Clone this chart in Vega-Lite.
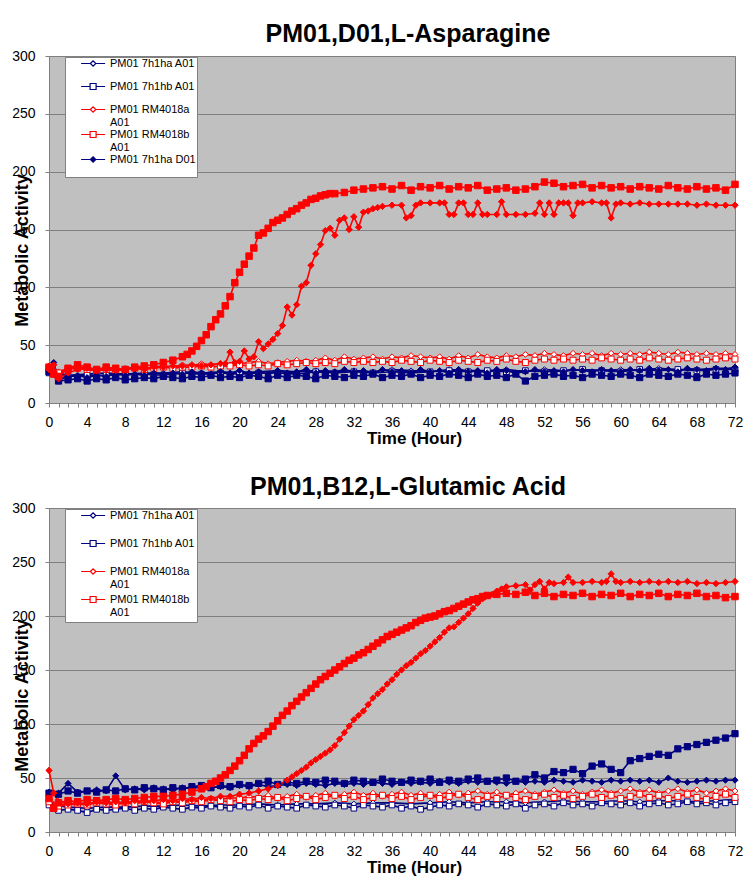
{
"$schema": "https://vega.github.io/schema/vega-lite/v6.json",
"padding": {"left": 11, "top": 21, "right": 10, "bottom": 5},
"spacing": 27,
"config": {
 "font": "Liberation Sans",
 "view": {"fill": "#C0C0C0", "stroke": "#808080", "strokeWidth": 1},
 "axis": {"labelColor": "black", "titleColor": "black", "domainColor": "#808080", "tickColor": "#808080", "labelFontSize": 14, "tickSize": 4, "labelFont": "Liberation Sans", "titleFont": "Liberation Sans"},
 "title": {"fontSize": 25, "fontWeight": "bold", "color": "black", "frame": "group", "anchor": "middle", "baseline": "alphabetic", "dx": 16, "font": "Liberation Sans"},
 "legend": {"orient": "none", "legendX": 16, "legendY": 1, "fillColor": "white", "strokeColor": "#808080", "padding": 1, "labelFontSize": 11, "labelColor": "black", "labelFont": "Liberation Sans", "symbolSize": 36, "symbolStrokeWidth": 1.2, "labelOffset": 33}
},
"resolve": {"scale": {"x": "independent", "y": "independent", "stroke": "independent", "fill": "independent", "shape": "independent", "size": "independent"}, "legend": {"stroke": "independent", "fill": "independent", "shape": "independent"}},
"datasets": {
"top": [
{"t":0,"s":"a","v":28},{"t":2,"s":"a","v":24},{"t":4,"s":"a","v":25},{"t":6,"s":"a","v":26},{"t":8,"s":"a","v":25},{"t":10,"s":"a","v":26},{"t":12,"s":"a","v":26},{"t":14,"s":"a","v":27},{"t":16,"s":"a","v":26},{"t":18,"s":"a","v":27},{"t":20,"s":"a","v":26},{"t":22,"s":"a","v":27},{"t":24,"s":"a","v":28},{"t":26,"s":"a","v":27},{"t":28,"s":"a","v":28},{"t":30,"s":"a","v":27},{"t":32,"s":"a","v":28},{"t":34,"s":"a","v":27},{"t":36,"s":"a","v":29},{"t":38,"s":"a","v":28},{"t":40,"s":"a","v":27},{"t":42,"s":"a","v":29},{"t":44,"s":"a","v":28},{"t":46,"s":"a","v":28},{"t":48,"s":"a","v":29},{"t":50,"s":"a","v":27},{"t":52,"s":"a","v":29},{"t":54,"s":"a","v":28},{"t":56,"s":"a","v":29},{"t":58,"s":"a","v":28},{"t":60,"s":"a","v":29},{"t":62,"s":"a","v":28},{"t":64,"s":"a","v":30},{"t":66,"s":"a","v":29},{"t":68,"s":"a","v":29},{"t":70,"s":"a","v":30},{"t":72,"s":"a","v":30},
{"t":0,"s":"b","v":26},{"t":2,"s":"b","v":23},{"t":4,"s":"b","v":24},{"t":6,"s":"b","v":24},{"t":8,"s":"b","v":25},{"t":10,"s":"b","v":25},{"t":12,"s":"b","v":24},{"t":14,"s":"b","v":26},{"t":16,"s":"b","v":25},{"t":18,"s":"b","v":26},{"t":20,"s":"b","v":25},{"t":22,"s":"b","v":26},{"t":24,"s":"b","v":26},{"t":26,"s":"b","v":25},{"t":28,"s":"b","v":27},{"t":30,"s":"b","v":26},{"t":32,"s":"b","v":27},{"t":34,"s":"b","v":26},{"t":36,"s":"b","v":27},{"t":38,"s":"b","v":26},{"t":40,"s":"b","v":27},{"t":42,"s":"b","v":28},{"t":44,"s":"b","v":27},{"t":46,"s":"b","v":28},{"t":48,"s":"b","v":27},{"t":50,"s":"b","v":28},{"t":52,"s":"b","v":27},{"t":54,"s":"b","v":28},{"t":56,"s":"b","v":29},{"t":58,"s":"b","v":28},{"t":60,"s":"b","v":27},{"t":62,"s":"b","v":29},{"t":64,"s":"b","v":28},{"t":66,"s":"b","v":29},{"t":68,"s":"b","v":28},{"t":70,"s":"b","v":29},{"t":72,"s":"b","v":29},
{"t":0,"s":"c","v":32},{"t":1,"s":"c","v":27},{"t":2,"s":"c","v":30},{"t":3,"s":"c","v":31},{"t":4,"s":"c","v":30},{"t":5,"s":"c","v":29},{"t":6,"s":"c","v":30},{"t":7,"s":"c","v":29},{"t":8,"s":"c","v":30},{"t":9,"s":"c","v":31},{"t":10,"s":"c","v":30},{"t":11,"s":"c","v":31},{"t":12,"s":"c","v":32},{"t":13,"s":"c","v":31},{"t":14,"s":"c","v":33},{"t":15,"s":"c","v":32},{"t":16,"s":"c","v":34},{"t":17,"s":"c","v":33},{"t":18,"s":"c","v":34},{"t":19,"s":"c","v":33},{"t":20,"s":"c","v":34},{"t":21,"s":"c","v":35},{"t":22,"s":"c","v":36},{"t":23,"s":"c","v":34},{"t":24,"s":"c","v":35},{"t":25,"s":"c","v":36},{"t":26,"s":"c","v":37},{"t":27,"s":"c","v":36},{"t":28,"s":"c","v":37},{"t":29,"s":"c","v":39},{"t":30,"s":"c","v":37},{"t":31,"s":"c","v":40},{"t":32,"s":"c","v":38},{"t":33,"s":"c","v":39},{"t":34,"s":"c","v":40},{"t":35,"s":"c","v":38},{"t":36,"s":"c","v":40},{"t":37,"s":"c","v":39},{"t":38,"s":"c","v":41},{"t":39,"s":"c","v":40},{"t":40,"s":"c","v":39},{"t":41,"s":"c","v":40},{"t":42,"s":"c","v":38},{"t":43,"s":"c","v":41},{"t":44,"s":"c","v":39},{"t":45,"s":"c","v":42},{"t":46,"s":"c","v":40},{"t":47,"s":"c","v":39},{"t":48,"s":"c","v":41},{"t":49,"s":"c","v":40},{"t":50,"s":"c","v":42},{"t":51,"s":"c","v":41},{"t":52,"s":"c","v":43},{"t":53,"s":"c","v":42},{"t":54,"s":"c","v":41},{"t":55,"s":"c","v":43},{"t":56,"s":"c","v":42},{"t":57,"s":"c","v":43},{"t":58,"s":"c","v":41},{"t":59,"s":"c","v":43},{"t":60,"s":"c","v":42},{"t":61,"s":"c","v":43},{"t":62,"s":"c","v":42},{"t":63,"s":"c","v":44},{"t":64,"s":"c","v":43},{"t":65,"s":"c","v":42},{"t":66,"s":"c","v":44},{"t":67,"s":"c","v":43},{"t":68,"s":"c","v":42},{"t":69,"s":"c","v":43},{"t":70,"s":"c","v":42},{"t":71,"s":"c","v":43},{"t":72,"s":"c","v":42},
{"t":0,"s":"d","v":30},{"t":1,"s":"d","v":26},{"t":2,"s":"d","v":29},{"t":3,"s":"d","v":30},{"t":4,"s":"d","v":29},{"t":5,"s":"d","v":28},{"t":6,"s":"d","v":29},{"t":7,"s":"d","v":28},{"t":8,"s":"d","v":29},{"t":9,"s":"d","v":30},{"t":10,"s":"d","v":29},{"t":11,"s":"d","v":30},{"t":12,"s":"d","v":31},{"t":13,"s":"d","v":30},{"t":14,"s":"d","v":31},{"t":15,"s":"d","v":31},{"t":16,"s":"d","v":32},{"t":17,"s":"d","v":31},{"t":18,"s":"d","v":32},{"t":19,"s":"d","v":32},{"t":20,"s":"d","v":33},{"t":21,"s":"d","v":32},{"t":22,"s":"d","v":33},{"t":23,"s":"d","v":32},{"t":24,"s":"d","v":34},{"t":25,"s":"d","v":33},{"t":26,"s":"d","v":34},{"t":27,"s":"d","v":35},{"t":28,"s":"d","v":34},{"t":29,"s":"d","v":35},{"t":30,"s":"d","v":34},{"t":31,"s":"d","v":36},{"t":32,"s":"d","v":35},{"t":33,"s":"d","v":36},{"t":34,"s":"d","v":35},{"t":35,"s":"d","v":36},{"t":36,"s":"d","v":35},{"t":37,"s":"d","v":37},{"t":38,"s":"d","v":36},{"t":39,"s":"d","v":35},{"t":40,"s":"d","v":37},{"t":41,"s":"d","v":36},{"t":42,"s":"d","v":35},{"t":43,"s":"d","v":37},{"t":44,"s":"d","v":36},{"t":45,"s":"d","v":35},{"t":46,"s":"d","v":37},{"t":47,"s":"d","v":36},{"t":48,"s":"d","v":38},{"t":49,"s":"d","v":36},{"t":50,"s":"d","v":35},{"t":51,"s":"d","v":37},{"t":52,"s":"d","v":38},{"t":53,"s":"d","v":37},{"t":54,"s":"d","v":38},{"t":55,"s":"d","v":37},{"t":56,"s":"d","v":38},{"t":57,"s":"d","v":37},{"t":58,"s":"d","v":39},{"t":59,"s":"d","v":38},{"t":60,"s":"d","v":37},{"t":61,"s":"d","v":38},{"t":62,"s":"d","v":37},{"t":63,"s":"d","v":39},{"t":64,"s":"d","v":38},{"t":65,"s":"d","v":37},{"t":66,"s":"d","v":38},{"t":67,"s":"d","v":39},{"t":68,"s":"d","v":38},{"t":69,"s":"d","v":37},{"t":70,"s":"d","v":38},{"t":71,"s":"d","v":39},{"t":72,"s":"d","v":38},
{"t":0,"s":"e","v":30},{"t":0.5,"s":"e","v":35},{"t":1,"s":"e","v":20},{"t":2,"s":"e","v":23},{"t":3,"s":"e","v":24},{"t":4,"s":"e","v":22},{"t":5,"s":"e","v":24},{"t":6,"s":"e","v":23},{"t":7,"s":"e","v":25},{"t":8,"s":"e","v":24},{"t":9,"s":"e","v":25},{"t":10,"s":"e","v":24},{"t":11,"s":"e","v":26},{"t":12,"s":"e","v":25},{"t":13,"s":"e","v":26},{"t":14,"s":"e","v":25},{"t":15,"s":"e","v":27},{"t":16,"s":"e","v":26},{"t":17,"s":"e","v":25},{"t":18,"s":"e","v":27},{"t":19,"s":"e","v":26},{"t":20,"s":"e","v":28},{"t":21,"s":"e","v":26},{"t":22,"s":"e","v":27},{"t":23,"s":"e","v":25},{"t":24,"s":"e","v":28},{"t":25,"s":"e","v":26},{"t":26,"s":"e","v":27},{"t":27,"s":"e","v":29},{"t":28,"s":"e","v":26},{"t":29,"s":"e","v":28},{"t":30,"s":"e","v":27},{"t":31,"s":"e","v":29},{"t":32,"s":"e","v":27},{"t":33,"s":"e","v":28},{"t":34,"s":"e","v":26},{"t":35,"s":"e","v":29},{"t":36,"s":"e","v":27},{"t":37,"s":"e","v":28},{"t":38,"s":"e","v":26},{"t":39,"s":"e","v":29},{"t":40,"s":"e","v":27},{"t":41,"s":"e","v":28},{"t":42,"s":"e","v":26},{"t":43,"s":"e","v":29},{"t":44,"s":"e","v":27},{"t":45,"s":"e","v":28},{"t":46,"s":"e","v":26},{"t":47,"s":"e","v":29},{"t":48,"s":"e","v":28},{"t":49,"s":"e","v":26},{"t":50,"s":"e","v":27},{"t":51,"s":"e","v":29},{"t":52,"s":"e","v":27},{"t":53,"s":"e","v":28},{"t":54,"s":"e","v":27},{"t":55,"s":"e","v":29},{"t":56,"s":"e","v":28},{"t":57,"s":"e","v":27},{"t":58,"s":"e","v":29},{"t":59,"s":"e","v":28},{"t":60,"s":"e","v":27},{"t":61,"s":"e","v":29},{"t":62,"s":"e","v":28},{"t":63,"s":"e","v":30},{"t":64,"s":"e","v":28},{"t":65,"s":"e","v":29},{"t":66,"s":"e","v":27},{"t":67,"s":"e","v":30},{"t":68,"s":"e","v":29},{"t":69,"s":"e","v":28},{"t":70,"s":"e","v":30},{"t":71,"s":"e","v":29},{"t":72,"s":"e","v":31},
{"t":0,"s":"f","v":27},{"t":1,"s":"f","v":19},{"t":2,"s":"f","v":20},{"t":3,"s":"f","v":21},{"t":4,"s":"f","v":19},{"t":5,"s":"f","v":21},{"t":6,"s":"f","v":20},{"t":7,"s":"f","v":22},{"t":8,"s":"f","v":20},{"t":9,"s":"f","v":21},{"t":10,"s":"f","v":22},{"t":11,"s":"f","v":21},{"t":12,"s":"f","v":23},{"t":13,"s":"f","v":22},{"t":14,"s":"f","v":21},{"t":15,"s":"f","v":23},{"t":16,"s":"f","v":22},{"t":17,"s":"f","v":24},{"t":18,"s":"f","v":22},{"t":19,"s":"f","v":23},{"t":20,"s":"f","v":22},{"t":21,"s":"f","v":24},{"t":22,"s":"f","v":23},{"t":23,"s":"f","v":21},{"t":24,"s":"f","v":24},{"t":25,"s":"f","v":22},{"t":26,"s":"f","v":24},{"t":27,"s":"f","v":23},{"t":28,"s":"f","v":21},{"t":29,"s":"f","v":24},{"t":30,"s":"f","v":23},{"t":31,"s":"f","v":22},{"t":32,"s":"f","v":24},{"t":33,"s":"f","v":23},{"t":34,"s":"f","v":25},{"t":35,"s":"f","v":22},{"t":36,"s":"f","v":24},{"t":37,"s":"f","v":23},{"t":38,"s":"f","v":25},{"t":39,"s":"f","v":22},{"t":40,"s":"f","v":24},{"t":41,"s":"f","v":23},{"t":42,"s":"f","v":25},{"t":43,"s":"f","v":24},{"t":44,"s":"f","v":22},{"t":45,"s":"f","v":25},{"t":46,"s":"f","v":23},{"t":47,"s":"f","v":24},{"t":48,"s":"f","v":22},{"t":49,"s":"f","v":25},{"t":50,"s":"f","v":19},{"t":51,"s":"f","v":23},{"t":52,"s":"f","v":24},{"t":53,"s":"f","v":25},{"t":54,"s":"f","v":23},{"t":55,"s":"f","v":24},{"t":56,"s":"f","v":22},{"t":57,"s":"f","v":25},{"t":58,"s":"f","v":24},{"t":59,"s":"f","v":23},{"t":60,"s":"f","v":25},{"t":61,"s":"f","v":24},{"t":62,"s":"f","v":22},{"t":63,"s":"f","v":25},{"t":64,"s":"f","v":24},{"t":65,"s":"f","v":23},{"t":66,"s":"f","v":25},{"t":67,"s":"f","v":24},{"t":68,"s":"f","v":22},{"t":69,"s":"f","v":25},{"t":70,"s":"f","v":24},{"t":71,"s":"f","v":25},{"t":72,"s":"f","v":26},
{"t":0,"s":"g","v":29},{"t":0.5,"s":"g","v":33},{"t":1,"s":"g","v":21},{"t":2,"s":"g","v":26},{"t":3,"s":"g","v":29},{"t":4,"s":"g","v":30},{"t":5,"s":"g","v":28},{"t":6,"s":"g","v":29},{"t":7,"s":"g","v":28},{"t":8,"s":"g","v":29},{"t":9,"s":"g","v":30},{"t":10,"s":"g","v":29},{"t":11,"s":"g","v":31},{"t":12,"s":"g","v":31},{"t":13,"s":"g","v":32},{"t":14,"s":"g","v":32},{"t":15,"s":"g","v":33},{"t":16,"s":"g","v":32},{"t":17,"s":"g","v":33},{"t":18,"s":"g","v":34},{"t":18.5,"s":"g","v":34},{"t":19,"s":"g","v":44},{"t":19.5,"s":"g","v":35},{"t":20,"s":"g","v":36},{"t":20.5,"s":"g","v":45},{"t":21,"s":"g","v":38},{"t":21.5,"s":"g","v":40},{"t":22,"s":"g","v":53},{"t":22.5,"s":"g","v":47},{"t":23,"s":"g","v":51},{"t":23.5,"s":"g","v":55},{"t":24,"s":"g","v":60},{"t":24.5,"s":"g","v":67},{"t":25,"s":"g","v":83},{"t":25.5,"s":"g","v":76},{"t":26,"s":"g","v":85},{"t":26.5,"s":"g","v":101},{"t":27,"s":"g","v":104},{"t":27.5,"s":"g","v":119},{"t":28,"s":"g","v":129},{"t":28.5,"s":"g","v":137},{"t":29,"s":"g","v":149},{"t":29.5,"s":"g","v":151},{"t":30,"s":"g","v":145},{"t":30.5,"s":"g","v":158},{"t":31,"s":"g","v":160},{"t":31.5,"s":"g","v":150},{"t":32,"s":"g","v":161},{"t":32.5,"s":"g","v":152},{"t":33,"s":"g","v":165},{"t":33.5,"s":"g","v":166},{"t":34,"s":"g","v":168},{"t":34.5,"s":"g","v":169},{"t":35,"s":"g","v":170},{"t":36,"s":"g","v":171},{"t":37,"s":"g","v":171},{"t":37.5,"s":"g","v":160},{"t":38,"s":"g","v":162},{"t":38.5,"s":"g","v":171},{"t":39,"s":"g","v":173},{"t":40,"s":"g","v":173},{"t":41,"s":"g","v":173},{"t":41.5,"s":"g","v":173},{"t":42,"s":"g","v":163},{"t":42.5,"s":"g","v":163},{"t":43,"s":"g","v":173},{"t":43.5,"s":"g","v":173},{"t":44,"s":"g","v":163},{"t":44.5,"s":"g","v":163},{"t":45,"s":"g","v":173},{"t":45.5,"s":"g","v":163},{"t":46,"s":"g","v":163},{"t":47,"s":"g","v":163},{"t":47.5,"s":"g","v":174},{"t":48,"s":"g","v":163},{"t":49,"s":"g","v":163},{"t":50,"s":"g","v":163},{"t":51,"s":"g","v":164},{"t":51.5,"s":"g","v":173},{"t":52,"s":"g","v":163},{"t":52.5,"s":"g","v":173},{"t":53,"s":"g","v":163},{"t":53.5,"s":"g","v":173},{"t":54,"s":"g","v":173},{"t":54.5,"s":"g","v":173},{"t":55,"s":"g","v":162},{"t":55.5,"s":"g","v":173},{"t":56,"s":"g","v":173},{"t":57,"s":"g","v":174},{"t":58,"s":"g","v":173},{"t":58.5,"s":"g","v":173},{"t":59,"s":"g","v":160},{"t":59.5,"s":"g","v":172},{"t":60,"s":"g","v":173},{"t":61,"s":"g","v":172},{"t":62,"s":"g","v":173},{"t":63,"s":"g","v":172},{"t":64,"s":"g","v":172},{"t":65,"s":"g","v":172},{"t":66,"s":"g","v":172},{"t":67,"s":"g","v":172},{"t":68,"s":"g","v":171},{"t":69,"s":"g","v":172},{"t":70,"s":"g","v":171},{"t":71,"s":"g","v":171},{"t":72,"s":"g","v":171},
{"t":0,"s":"h","v":31},{"t":0.5,"s":"h","v":25},{"t":1,"s":"h","v":23},{"t":2,"s":"h","v":30},{"t":3,"s":"h","v":33},{"t":4,"s":"h","v":31},{"t":5,"s":"h","v":29},{"t":6,"s":"h","v":31},{"t":7,"s":"h","v":30},{"t":8,"s":"h","v":29},{"t":9,"s":"h","v":31},{"t":10,"s":"h","v":32},{"t":11,"s":"h","v":33},{"t":12,"s":"h","v":35},{"t":13,"s":"h","v":37},{"t":14,"s":"h","v":40},{"t":14.5,"s":"h","v":42},{"t":15,"s":"h","v":45},{"t":15.5,"s":"h","v":49},{"t":16,"s":"h","v":54},{"t":16.5,"s":"h","v":59},{"t":17,"s":"h","v":66},{"t":17.5,"s":"h","v":72},{"t":18,"s":"h","v":77},{"t":18.5,"s":"h","v":84},{"t":19,"s":"h","v":92},{"t":19.5,"s":"h","v":104},{"t":20,"s":"h","v":113},{"t":20.5,"s":"h","v":120},{"t":21,"s":"h","v":127},{"t":21.5,"s":"h","v":134},{"t":22,"s":"h","v":145},{"t":22.5,"s":"h","v":147},{"t":23,"s":"h","v":151},{"t":23.5,"s":"h","v":156},{"t":24,"s":"h","v":158},{"t":24.5,"s":"h","v":160},{"t":25,"s":"h","v":163},{"t":25.5,"s":"h","v":166},{"t":26,"s":"h","v":168},{"t":26.5,"s":"h","v":171},{"t":27,"s":"h","v":173},{"t":27.5,"s":"h","v":176},{"t":28,"s":"h","v":177},{"t":28.5,"s":"h","v":179},{"t":29,"s":"h","v":180},{"t":29.5,"s":"h","v":181},{"t":30,"s":"h","v":181},{"t":31,"s":"h","v":182},{"t":32,"s":"h","v":184},{"t":33,"s":"h","v":185},{"t":34,"s":"h","v":186},{"t":35,"s":"h","v":187},{"t":36,"s":"h","v":185},{"t":37,"s":"h","v":188},{"t":38,"s":"h","v":184},{"t":39,"s":"h","v":187},{"t":40,"s":"h","v":186},{"t":41,"s":"h","v":188},{"t":42,"s":"h","v":185},{"t":43,"s":"h","v":187},{"t":44,"s":"h","v":186},{"t":45,"s":"h","v":188},{"t":46,"s":"h","v":184},{"t":47,"s":"h","v":185},{"t":48,"s":"h","v":186},{"t":49,"s":"h","v":184},{"t":50,"s":"h","v":185},{"t":51,"s":"h","v":187},{"t":52,"s":"h","v":191},{"t":53,"s":"h","v":190},{"t":54,"s":"h","v":187},{"t":55,"s":"h","v":188},{"t":56,"s":"h","v":189},{"t":57,"s":"h","v":186},{"t":58,"s":"h","v":188},{"t":59,"s":"h","v":186},{"t":60,"s":"h","v":187},{"t":61,"s":"h","v":185},{"t":62,"s":"h","v":187},{"t":63,"s":"h","v":186},{"t":64,"s":"h","v":185},{"t":65,"s":"h","v":188},{"t":66,"s":"h","v":186},{"t":67,"s":"h","v":185},{"t":68,"s":"h","v":187},{"t":69,"s":"h","v":185},{"t":70,"s":"h","v":186},{"t":71,"s":"h","v":184},{"t":72,"s":"h","v":189}
],
"bot": [
{"t":0,"s":"a","v":26},{"t":2,"s":"a","v":23},{"t":4,"s":"a","v":22},{"t":6,"s":"a","v":23},{"t":8,"s":"a","v":23},{"t":10,"s":"a","v":24},{"t":12,"s":"a","v":24},{"t":14,"s":"a","v":25},{"t":16,"s":"a","v":24},{"t":18,"s":"a","v":25},{"t":20,"s":"a","v":25},{"t":22,"s":"a","v":26},{"t":24,"s":"a","v":25},{"t":26,"s":"a","v":26},{"t":28,"s":"a","v":26},{"t":30,"s":"a","v":27},{"t":32,"s":"a","v":26},{"t":34,"s":"a","v":27},{"t":36,"s":"a","v":27},{"t":38,"s":"a","v":26},{"t":40,"s":"a","v":27},{"t":42,"s":"a","v":28},{"t":44,"s":"a","v":27},{"t":46,"s":"a","v":28},{"t":48,"s":"a","v":28},{"t":50,"s":"a","v":27},{"t":52,"s":"a","v":28},{"t":54,"s":"a","v":29},{"t":56,"s":"a","v":28},{"t":58,"s":"a","v":28},{"t":60,"s":"a","v":29},{"t":62,"s":"a","v":28},{"t":64,"s":"a","v":29},{"t":66,"s":"a","v":29},{"t":68,"s":"a","v":28},{"t":70,"s":"a","v":29},{"t":72,"s":"a","v":30},
{"t":0,"s":"b","v":25},{"t":1,"s":"b","v":20},{"t":2,"s":"b","v":21},{"t":3,"s":"b","v":20},{"t":4,"s":"b","v":18},{"t":5,"s":"b","v":21},{"t":6,"s":"b","v":20},{"t":7,"s":"b","v":21},{"t":8,"s":"b","v":22},{"t":9,"s":"b","v":20},{"t":10,"s":"b","v":22},{"t":11,"s":"b","v":21},{"t":12,"s":"b","v":23},{"t":13,"s":"b","v":22},{"t":14,"s":"b","v":21},{"t":15,"s":"b","v":23},{"t":16,"s":"b","v":22},{"t":17,"s":"b","v":24},{"t":18,"s":"b","v":23},{"t":19,"s":"b","v":22},{"t":20,"s":"b","v":24},{"t":21,"s":"b","v":23},{"t":22,"s":"b","v":25},{"t":23,"s":"b","v":22},{"t":24,"s":"b","v":24},{"t":25,"s":"b","v":23},{"t":26,"s":"b","v":22},{"t":27,"s":"b","v":25},{"t":28,"s":"b","v":24},{"t":29,"s":"b","v":23},{"t":30,"s":"b","v":25},{"t":31,"s":"b","v":24},{"t":32,"s":"b","v":22},{"t":33,"s":"b","v":25},{"t":34,"s":"b","v":24},{"t":35,"s":"b","v":23},{"t":36,"s":"b","v":25},{"t":37,"s":"b","v":22},{"t":38,"s":"b","v":24},{"t":39,"s":"b","v":21},{"t":40,"s":"b","v":23},{"t":41,"s":"b","v":25},{"t":42,"s":"b","v":24},{"t":43,"s":"b","v":26},{"t":44,"s":"b","v":25},{"t":45,"s":"b","v":23},{"t":46,"s":"b","v":26},{"t":47,"s":"b","v":25},{"t":48,"s":"b","v":24},{"t":49,"s":"b","v":26},{"t":50,"s":"b","v":22},{"t":51,"s":"b","v":25},{"t":52,"s":"b","v":26},{"t":53,"s":"b","v":24},{"t":54,"s":"b","v":27},{"t":55,"s":"b","v":25},{"t":56,"s":"b","v":26},{"t":57,"s":"b","v":24},{"t":58,"s":"b","v":27},{"t":59,"s":"b","v":26},{"t":60,"s":"b","v":25},{"t":61,"s":"b","v":27},{"t":62,"s":"b","v":24},{"t":63,"s":"b","v":26},{"t":64,"s":"b","v":27},{"t":65,"s":"b","v":25},{"t":66,"s":"b","v":26},{"t":67,"s":"b","v":28},{"t":68,"s":"b","v":26},{"t":69,"s":"b","v":27},{"t":70,"s":"b","v":25},{"t":71,"s":"b","v":27},{"t":72,"s":"b","v":28},
{"t":0,"s":"c","v":30},{"t":1,"s":"c","v":25},{"t":2,"s":"c","v":26},{"t":3,"s":"c","v":27},{"t":4,"s":"c","v":26},{"t":5,"s":"c","v":28},{"t":6,"s":"c","v":27},{"t":7,"s":"c","v":26},{"t":8,"s":"c","v":28},{"t":9,"s":"c","v":27},{"t":10,"s":"c","v":29},{"t":11,"s":"c","v":28},{"t":12,"s":"c","v":27},{"t":13,"s":"c","v":29},{"t":14,"s":"c","v":28},{"t":15,"s":"c","v":30},{"t":16,"s":"c","v":29},{"t":17,"s":"c","v":31},{"t":18,"s":"c","v":30},{"t":19,"s":"c","v":32},{"t":20,"s":"c","v":31},{"t":21,"s":"c","v":33},{"t":22,"s":"c","v":32},{"t":23,"s":"c","v":34},{"t":24,"s":"c","v":31},{"t":25,"s":"c","v":33},{"t":26,"s":"c","v":35},{"t":27,"s":"c","v":32},{"t":28,"s":"c","v":34},{"t":29,"s":"c","v":36},{"t":30,"s":"c","v":33},{"t":31,"s":"c","v":35},{"t":32,"s":"c","v":37},{"t":33,"s":"c","v":34},{"t":34,"s":"c","v":36},{"t":35,"s":"c","v":33},{"t":36,"s":"c","v":35},{"t":37,"s":"c","v":37},{"t":38,"s":"c","v":34},{"t":39,"s":"c","v":36},{"t":40,"s":"c","v":33},{"t":41,"s":"c","v":35},{"t":42,"s":"c","v":37},{"t":43,"s":"c","v":34},{"t":44,"s":"c","v":36},{"t":45,"s":"c","v":38},{"t":46,"s":"c","v":35},{"t":47,"s":"c","v":37},{"t":48,"s":"c","v":34},{"t":49,"s":"c","v":36},{"t":50,"s":"c","v":38},{"t":51,"s":"c","v":35},{"t":52,"s":"c","v":37},{"t":53,"s":"c","v":39},{"t":54,"s":"c","v":36},{"t":55,"s":"c","v":38},{"t":56,"s":"c","v":35},{"t":57,"s":"c","v":37},{"t":58,"s":"c","v":39},{"t":59,"s":"c","v":36},{"t":60,"s":"c","v":38},{"t":61,"s":"c","v":40},{"t":62,"s":"c","v":37},{"t":63,"s":"c","v":39},{"t":64,"s":"c","v":36},{"t":65,"s":"c","v":38},{"t":66,"s":"c","v":40},{"t":67,"s":"c","v":37},{"t":68,"s":"c","v":39},{"t":69,"s":"c","v":36},{"t":70,"s":"c","v":38},{"t":71,"s":"c","v":40},{"t":72,"s":"c","v":38},
{"t":0,"s":"d","v":28},{"t":1,"s":"d","v":24},{"t":2,"s":"d","v":25},{"t":3,"s":"d","v":26},{"t":4,"s":"d","v":25},{"t":5,"s":"d","v":27},{"t":6,"s":"d","v":26},{"t":7,"s":"d","v":25},{"t":8,"s":"d","v":27},{"t":9,"s":"d","v":26},{"t":10,"s":"d","v":28},{"t":11,"s":"d","v":27},{"t":12,"s":"d","v":26},{"t":13,"s":"d","v":28},{"t":14,"s":"d","v":27},{"t":15,"s":"d","v":29},{"t":16,"s":"d","v":28},{"t":17,"s":"d","v":30},{"t":18,"s":"d","v":29},{"t":19,"s":"d","v":28},{"t":20,"s":"d","v":30},{"t":21,"s":"d","v":29},{"t":22,"s":"d","v":31},{"t":23,"s":"d","v":30},{"t":24,"s":"d","v":32},{"t":25,"s":"d","v":29},{"t":26,"s":"d","v":31},{"t":27,"s":"d","v":33},{"t":28,"s":"d","v":30},{"t":29,"s":"d","v":32},{"t":30,"s":"d","v":34},{"t":31,"s":"d","v":31},{"t":32,"s":"d","v":33},{"t":33,"s":"d","v":30},{"t":34,"s":"d","v":32},{"t":35,"s":"d","v":34},{"t":36,"s":"d","v":31},{"t":37,"s":"d","v":33},{"t":38,"s":"d","v":30},{"t":39,"s":"d","v":32},{"t":40,"s":"d","v":34},{"t":41,"s":"d","v":31},{"t":42,"s":"d","v":33},{"t":43,"s":"d","v":35},{"t":44,"s":"d","v":32},{"t":45,"s":"d","v":30},{"t":46,"s":"d","v":33},{"t":47,"s":"d","v":31},{"t":48,"s":"d","v":34},{"t":49,"s":"d","v":32},{"t":50,"s":"d","v":30},{"t":51,"s":"d","v":33},{"t":52,"s":"d","v":35},{"t":53,"s":"d","v":32},{"t":54,"s":"d","v":34},{"t":55,"s":"d","v":31},{"t":56,"s":"d","v":33},{"t":57,"s":"d","v":35},{"t":58,"s":"d","v":32},{"t":59,"s":"d","v":34},{"t":60,"s":"d","v":31},{"t":61,"s":"d","v":33},{"t":62,"s":"d","v":35},{"t":63,"s":"d","v":32},{"t":64,"s":"d","v":34},{"t":65,"s":"d","v":31},{"t":66,"s":"d","v":33},{"t":67,"s":"d","v":35},{"t":68,"s":"d","v":32},{"t":69,"s":"d","v":30},{"t":70,"s":"d","v":33},{"t":71,"s":"d","v":35},{"t":72,"s":"d","v":32},
{"t":0,"s":"e","v":37},{"t":1,"s":"e","v":36},{"t":2,"s":"e","v":45},{"t":3,"s":"e","v":37},{"t":4,"s":"e","v":38},{"t":5,"s":"e","v":39},{"t":6,"s":"e","v":38},{"t":7,"s":"e","v":52},{"t":8,"s":"e","v":39},{"t":9,"s":"e","v":40},{"t":10,"s":"e","v":39},{"t":11,"s":"e","v":41},{"t":12,"s":"e","v":40},{"t":13,"s":"e","v":39},{"t":14,"s":"e","v":41},{"t":15,"s":"e","v":40},{"t":16,"s":"e","v":42},{"t":17,"s":"e","v":41},{"t":18,"s":"e","v":42},{"t":19,"s":"e","v":41},{"t":20,"s":"e","v":43},{"t":21,"s":"e","v":42},{"t":22,"s":"e","v":44},{"t":23,"s":"e","v":42},{"t":24,"s":"e","v":43},{"t":25,"s":"e","v":44},{"t":26,"s":"e","v":43},{"t":27,"s":"e","v":45},{"t":28,"s":"e","v":44},{"t":29,"s":"e","v":43},{"t":30,"s":"e","v":45},{"t":31,"s":"e","v":44},{"t":32,"s":"e","v":45},{"t":33,"s":"e","v":44},{"t":34,"s":"e","v":46},{"t":35,"s":"e","v":45},{"t":36,"s":"e","v":44},{"t":37,"s":"e","v":46},{"t":38,"s":"e","v":45},{"t":39,"s":"e","v":46},{"t":40,"s":"e","v":45},{"t":41,"s":"e","v":47},{"t":42,"s":"e","v":46},{"t":43,"s":"e","v":45},{"t":44,"s":"e","v":47},{"t":45,"s":"e","v":46},{"t":46,"s":"e","v":47},{"t":47,"s":"e","v":46},{"t":48,"s":"e","v":45},{"t":49,"s":"e","v":47},{"t":50,"s":"e","v":46},{"t":51,"s":"e","v":47},{"t":52,"s":"e","v":46},{"t":53,"s":"e","v":48},{"t":54,"s":"e","v":47},{"t":55,"s":"e","v":46},{"t":56,"s":"e","v":48},{"t":57,"s":"e","v":47},{"t":58,"s":"e","v":46},{"t":59,"s":"e","v":48},{"t":60,"s":"e","v":47},{"t":61,"s":"e","v":48},{"t":62,"s":"e","v":47},{"t":63,"s":"e","v":48},{"t":64,"s":"e","v":46},{"t":65,"s":"e","v":50},{"t":66,"s":"e","v":47},{"t":67,"s":"e","v":46},{"t":68,"s":"e","v":47},{"t":69,"s":"e","v":48},{"t":70,"s":"e","v":47},{"t":71,"s":"e","v":48},{"t":72,"s":"e","v":48},
{"t":0,"s":"f","v":36},{"t":1,"s":"f","v":35},{"t":2,"s":"f","v":38},{"t":3,"s":"f","v":36},{"t":4,"s":"f","v":38},{"t":5,"s":"f","v":37},{"t":6,"s":"f","v":39},{"t":7,"s":"f","v":38},{"t":8,"s":"f","v":40},{"t":9,"s":"f","v":39},{"t":10,"s":"f","v":41},{"t":11,"s":"f","v":40},{"t":12,"s":"f","v":39},{"t":13,"s":"f","v":41},{"t":14,"s":"f","v":40},{"t":15,"s":"f","v":42},{"t":16,"s":"f","v":43},{"t":17,"s":"f","v":41},{"t":18,"s":"f","v":43},{"t":19,"s":"f","v":42},{"t":20,"s":"f","v":44},{"t":21,"s":"f","v":43},{"t":22,"s":"f","v":45},{"t":23,"s":"f","v":47},{"t":24,"s":"f","v":44},{"t":25,"s":"f","v":46},{"t":26,"s":"f","v":45},{"t":27,"s":"f","v":47},{"t":28,"s":"f","v":46},{"t":29,"s":"f","v":48},{"t":30,"s":"f","v":47},{"t":31,"s":"f","v":45},{"t":32,"s":"f","v":48},{"t":33,"s":"f","v":47},{"t":34,"s":"f","v":46},{"t":35,"s":"f","v":49},{"t":36,"s":"f","v":47},{"t":37,"s":"f","v":46},{"t":38,"s":"f","v":48},{"t":39,"s":"f","v":47},{"t":40,"s":"f","v":49},{"t":41,"s":"f","v":46},{"t":42,"s":"f","v":48},{"t":43,"s":"f","v":47},{"t":44,"s":"f","v":49},{"t":45,"s":"f","v":50},{"t":46,"s":"f","v":47},{"t":47,"s":"f","v":48},{"t":48,"s":"f","v":50},{"t":49,"s":"f","v":47},{"t":50,"s":"f","v":49},{"t":51,"s":"f","v":53},{"t":52,"s":"f","v":50},{"t":53,"s":"f","v":56},{"t":54,"s":"f","v":55},{"t":55,"s":"f","v":58},{"t":56,"s":"f","v":54},{"t":57,"s":"f","v":61},{"t":58,"s":"f","v":63},{"t":59,"s":"f","v":58},{"t":60,"s":"f","v":55},{"t":61,"s":"f","v":66},{"t":62,"s":"f","v":68},{"t":63,"s":"f","v":70},{"t":64,"s":"f","v":72},{"t":65,"s":"f","v":71},{"t":66,"s":"f","v":77},{"t":67,"s":"f","v":79},{"t":68,"s":"f","v":81},{"t":69,"s":"f","v":83},{"t":70,"s":"f","v":85},{"t":71,"s":"f","v":87},{"t":72,"s":"f","v":91},
{"t":0,"s":"g","v":57},{"t":0.5,"s":"g","v":36},{"t":1,"s":"g","v":28},{"t":2,"s":"g","v":26},{"t":3,"s":"g","v":27},{"t":4,"s":"g","v":26},{"t":5,"s":"g","v":28},{"t":6,"s":"g","v":27},{"t":7,"s":"g","v":28},{"t":8,"s":"g","v":27},{"t":9,"s":"g","v":29},{"t":10,"s":"g","v":28},{"t":11,"s":"g","v":29},{"t":12,"s":"g","v":30},{"t":13,"s":"g","v":29},{"t":14,"s":"g","v":31},{"t":15,"s":"g","v":30},{"t":16,"s":"g","v":32},{"t":17,"s":"g","v":31},{"t":18,"s":"g","v":33},{"t":19,"s":"g","v":33},{"t":20,"s":"g","v":35},{"t":21,"s":"g","v":36},{"t":22,"s":"g","v":38},{"t":23,"s":"g","v":40},{"t":24,"s":"g","v":43},{"t":25,"s":"g","v":48},{"t":25.5,"s":"g","v":51},{"t":26,"s":"g","v":54},{"t":26.5,"s":"g","v":57},{"t":27,"s":"g","v":60},{"t":27.5,"s":"g","v":64},{"t":28,"s":"g","v":67},{"t":28.5,"s":"g","v":70},{"t":29,"s":"g","v":73},{"t":29.5,"s":"g","v":76},{"t":30,"s":"g","v":80},{"t":30.5,"s":"g","v":86},{"t":31,"s":"g","v":92},{"t":31.5,"s":"g","v":98},{"t":32,"s":"g","v":104},{"t":32.5,"s":"g","v":108},{"t":33,"s":"g","v":112},{"t":33.5,"s":"g","v":118},{"t":34,"s":"g","v":124},{"t":34.5,"s":"g","v":128},{"t":35,"s":"g","v":132},{"t":35.5,"s":"g","v":137},{"t":36,"s":"g","v":141},{"t":36.5,"s":"g","v":146},{"t":37,"s":"g","v":150},{"t":37.5,"s":"g","v":154},{"t":38,"s":"g","v":157},{"t":38.5,"s":"g","v":161},{"t":39,"s":"g","v":165},{"t":39.5,"s":"g","v":168},{"t":40,"s":"g","v":172},{"t":40.5,"s":"g","v":176},{"t":41,"s":"g","v":180},{"t":41.5,"s":"g","v":185},{"t":42,"s":"g","v":189},{"t":42.5,"s":"g","v":190},{"t":43,"s":"g","v":194},{"t":43.5,"s":"g","v":198},{"t":44,"s":"g","v":202},{"t":44.5,"s":"g","v":207},{"t":45,"s":"g","v":212},{"t":45.5,"s":"g","v":216},{"t":46,"s":"g","v":219},{"t":46.5,"s":"g","v":220},{"t":47,"s":"g","v":223},{"t":47.5,"s":"g","v":225},{"t":48,"s":"g","v":227},{"t":49,"s":"g","v":228},{"t":50,"s":"g","v":229},{"t":50.5,"s":"g","v":224},{"t":51,"s":"g","v":229},{"t":51.5,"s":"g","v":232},{"t":52,"s":"g","v":225},{"t":52.5,"s":"g","v":231},{"t":53,"s":"g","v":230},{"t":54,"s":"g","v":231},{"t":54.5,"s":"g","v":236},{"t":55,"s":"g","v":231},{"t":56,"s":"g","v":231},{"t":57,"s":"g","v":232},{"t":58,"s":"g","v":231},{"t":58.5,"s":"g","v":232},{"t":59,"s":"g","v":239},{"t":59.5,"s":"g","v":232},{"t":60,"s":"g","v":231},{"t":61,"s":"g","v":232},{"t":62,"s":"g","v":231},{"t":63,"s":"g","v":232},{"t":64,"s":"g","v":231},{"t":65,"s":"g","v":232},{"t":66,"s":"g","v":231},{"t":67,"s":"g","v":232},{"t":68,"s":"g","v":230},{"t":69,"s":"g","v":231},{"t":70,"s":"g","v":230},{"t":71,"s":"g","v":231},{"t":72,"s":"g","v":232},
{"t":0,"s":"h","v":31},{"t":0.5,"s":"h","v":22},{"t":1,"s":"h","v":27},{"t":2,"s":"h","v":29},{"t":3,"s":"h","v":28},{"t":4,"s":"h","v":30},{"t":5,"s":"h","v":29},{"t":6,"s":"h","v":30},{"t":7,"s":"h","v":31},{"t":8,"s":"h","v":30},{"t":9,"s":"h","v":31},{"t":10,"s":"h","v":32},{"t":11,"s":"h","v":33},{"t":12,"s":"h","v":33},{"t":13,"s":"h","v":34},{"t":14,"s":"h","v":35},{"t":15,"s":"h","v":37},{"t":16,"s":"h","v":40},{"t":16.5,"s":"h","v":42},{"t":17,"s":"h","v":45},{"t":17.5,"s":"h","v":47},{"t":18,"s":"h","v":50},{"t":18.5,"s":"h","v":53},{"t":19,"s":"h","v":57},{"t":19.5,"s":"h","v":61},{"t":20,"s":"h","v":66},{"t":20.5,"s":"h","v":71},{"t":21,"s":"h","v":77},{"t":21.5,"s":"h","v":82},{"t":22,"s":"h","v":86},{"t":22.5,"s":"h","v":89},{"t":23,"s":"h","v":93},{"t":23.5,"s":"h","v":98},{"t":24,"s":"h","v":103},{"t":24.5,"s":"h","v":108},{"t":25,"s":"h","v":112},{"t":25.5,"s":"h","v":117},{"t":26,"s":"h","v":121},{"t":26.5,"s":"h","v":125},{"t":27,"s":"h","v":129},{"t":27.5,"s":"h","v":133},{"t":28,"s":"h","v":137},{"t":28.5,"s":"h","v":141},{"t":29,"s":"h","v":144},{"t":29.5,"s":"h","v":147},{"t":30,"s":"h","v":150},{"t":30.5,"s":"h","v":153},{"t":31,"s":"h","v":156},{"t":31.5,"s":"h","v":159},{"t":32,"s":"h","v":161},{"t":32.5,"s":"h","v":164},{"t":33,"s":"h","v":166},{"t":33.5,"s":"h","v":169},{"t":34,"s":"h","v":172},{"t":34.5,"s":"h","v":175},{"t":35,"s":"h","v":178},{"t":35.5,"s":"h","v":181},{"t":36,"s":"h","v":183},{"t":36.5,"s":"h","v":185},{"t":37,"s":"h","v":187},{"t":37.5,"s":"h","v":189},{"t":38,"s":"h","v":191},{"t":38.5,"s":"h","v":194},{"t":39,"s":"h","v":196},{"t":39.5,"s":"h","v":198},{"t":40,"s":"h","v":199},{"t":40.5,"s":"h","v":200},{"t":41,"s":"h","v":202},{"t":41.5,"s":"h","v":204},{"t":42,"s":"h","v":205},{"t":42.5,"s":"h","v":207},{"t":43,"s":"h","v":209},{"t":43.5,"s":"h","v":211},{"t":44,"s":"h","v":213},{"t":44.5,"s":"h","v":215},{"t":45,"s":"h","v":216},{"t":45.5,"s":"h","v":218},{"t":46,"s":"h","v":219},{"t":47,"s":"h","v":220},{"t":48,"s":"h","v":221},{"t":49,"s":"h","v":220},{"t":50,"s":"h","v":222},{"t":51,"s":"h","v":219},{"t":52,"s":"h","v":221},{"t":53,"s":"h","v":218},{"t":54,"s":"h","v":220},{"t":55,"s":"h","v":219},{"t":56,"s":"h","v":221},{"t":57,"s":"h","v":218},{"t":58,"s":"h","v":220},{"t":59,"s":"h","v":219},{"t":60,"s":"h","v":221},{"t":61,"s":"h","v":218},{"t":62,"s":"h","v":220},{"t":63,"s":"h","v":219},{"t":64,"s":"h","v":221},{"t":65,"s":"h","v":218},{"t":66,"s":"h","v":220},{"t":67,"s":"h","v":219},{"t":68,"s":"h","v":221},{"t":69,"s":"h","v":218},{"t":70,"s":"h","v":219},{"t":71,"s":"h","v":217},{"t":72,"s":"h","v":218}
]
},
"vconcat": [
{
 "title": {"text": "PM01,D01,L-Asparagine", "offset": 2},
 "width": 686, "height": 347,
 "data": {"name": "top"},
 "encoding": {
  "x": {"field": "t", "type": "quantitative", "scale": {"domain": [0, 72], "nice": false, "zero": false},
   "axis": {"values": [0,1,2,3,4,5,6,7,8,9,10,11,12,13,14,15,16,17,18,19,20,21,22,23,24,25,26,27,28,29,30,31,32,33,34,35,36,37,38,39,40,41,42,43,44,45,46,47,48,49,50,51,52,53,54,55,56,57,58,59,60,61,62,63,64,65,66,67,68,69,70,71,72], "labelExpr": "datum.value % 4 === 0 ? datum.label : ''", "labelOverlap": false, "labelFlush": false, "labelBound": false, "labelPadding": 8, "grid": false, "title": "Time (Hour)", "titleFontSize": 17, "titleFontWeight": "bold", "titleX": 365, "titleY": 40, "titleBaseline": "alphabetic", "titleAlign": "center"}},
  "y": {"field": "v", "type": "quantitative", "scale": {"domain": [0, 300], "nice": false},
   "axis": {"values": [0,50,100,150,200,250,300], "grid": true, "gridColor": "#808080", "gridWidth": 1, "labelPadding": 10, "title": "Metabolic Activity", "titleFontSize": 18, "titleFontWeight": "bold", "titleX": -22, "titleY": 194, "titleBaseline": "alphabetic", "titleAlign": "center", "titleAngle": -90}}
 },
 "layer": [
  {"mark": {"type": "line", "strokeWidth": 1.6},
   "encoding": {"stroke": {"field": "s", "type": "nominal",
     "scale": {"domain": ["a","b","c","d","e","f","g","h"], "range": ["#000080","#000080","#FF0000","#FF0000","#000080","#000080","#FF0000","#FF0000"]},
     "legend": {"title": null, "values": ["a","b","c","d","e"], "rowPadding": 0,
      "labelExpr": "datum.value == 'a' ? 'PM01 7h1ha A01' : datum.value == 'b' ? 'PM01 7h1hb A01' : datum.value == 'c' ? ['PM01 RM4018a','A01'] : datum.value == 'd' ? ['PM01 RM4018b','A01'] : 'PM01 7h1ha D01'",
      "encode": {"symbols": {"update": {"shape": {"signal": "datum.value == 'b' || datum.value == 'd' ? 'M3.2,-1M3.2,4.67M3.2,0H6.2M8.2,0H11.2M6.2,-1H8.2V1H6.2Z' : 'M3.2,-1M3.2,4.67M3.2,0H6.3M8.1,0H11.2M6.3,0L7.2,-0.9L8.1,0L7.2,0.9Z'"}}}}}}}},
  {"mark": {"type": "point", "filled": true, "strokeWidth": 1, "opacity": 1},
   "encoding": {
    "stroke": {"field": "s", "type": "nominal", "scale": {"domain": ["a","b","c","d","e","f","g","h"], "range": ["#000080","#000080","#FF0000","#FF0000","#000080","#000080","#FF0000","#FF0000"]}},
    "fill": {"field": "s", "type": "nominal", "scale": {"domain": ["a","b","c","d","e","f","g","h"], "range": ["white","white","white","white","#000080","#000080","#FF0000","#FF0000"]}},
    "shape": {"field": "s", "type": "nominal", "scale": {"domain": ["h","g","f","e","d","c","b","a"], "range": ["square","diamond","square","diamond","square","diamond","square","diamond"]}, "legend": null},
    "size": {"field": "s", "type": "ordinal", "scale": {"domain": ["h","g","f","e","d","c","b","a"], "range": [42,30,42,30,30,25,30,25]}, "legend": null}
   }}
 ]
},
{
 "title": {"text": "PM01,B12,L-Glutamic Acid", "offset": 1},
 "width": 686, "height": 324,
 "data": {"name": "bot"},
 "encoding": {
  "x": {"field": "t", "type": "quantitative", "scale": {"domain": [0, 72], "nice": false, "zero": false},
   "axis": {"values": [0,1,2,3,4,5,6,7,8,9,10,11,12,13,14,15,16,17,18,19,20,21,22,23,24,25,26,27,28,29,30,31,32,33,34,35,36,37,38,39,40,41,42,43,44,45,46,47,48,49,50,51,52,53,54,55,56,57,58,59,60,61,62,63,64,65,66,67,68,69,70,71,72], "labelExpr": "datum.value % 4 === 0 ? datum.label : ''", "labelOverlap": false, "labelFlush": false, "labelBound": false, "labelPadding": 8, "grid": false, "title": "Time (Hour)", "titleFontSize": 17, "titleFontWeight": "bold", "titleX": 365, "titleY": 40, "titleBaseline": "alphabetic", "titleAlign": "center"}},
  "y": {"field": "v", "type": "quantitative", "scale": {"domain": [0, 300], "nice": false},
   "axis": {"values": [0,50,100,150,200,250,300], "grid": true, "gridColor": "#808080", "gridWidth": 1, "labelPadding": 10, "title": "Metabolic Activity", "titleFontSize": 18, "titleFontWeight": "bold", "titleX": -22, "titleY": 187, "titleBaseline": "alphabetic", "titleAlign": "center", "titleAngle": -90}}
 },
 "layer": [
  {"mark": {"type": "line", "strokeWidth": 1.6},
   "encoding": {"stroke": {"field": "s", "type": "nominal",
     "scale": {"domain": ["a","b","c","d","e","f","g","h"], "range": ["#000080","#000080","#FF0000","#FF0000","#000080","#000080","#FF0000","#FF0000"]},
     "legend": {"title": null, "values": ["a","b","c","d"], "rowPadding": 0,
      "labelExpr": "datum.value == 'a' ? 'PM01 7h1ha A01' : datum.value == 'b' ? 'PM01 7h1hb A01' : datum.value == 'c' ? ['PM01 RM4018a','A01'] : ['PM01 RM4018b','A01']",
      "encode": {"symbols": {"update": {"shape": {"signal": "datum.value == 'b' || datum.value == 'd' ? 'M3.2,-1M3.2,6.33M3.2,0H6.2M8.2,0H11.2M6.2,-1H8.2V1H6.2Z' : 'M3.2,-1M3.2,6.33M3.2,0H6.3M8.1,0H11.2M6.3,0L7.2,-0.9L8.1,0L7.2,0.9Z'"}}}}}}}},
  {"mark": {"type": "point", "filled": true, "strokeWidth": 1, "opacity": 1},
   "encoding": {
    "stroke": {"field": "s", "type": "nominal", "scale": {"domain": ["a","b","c","d","e","f","g","h"], "range": ["#000080","#000080","#FF0000","#FF0000","#000080","#000080","#FF0000","#FF0000"]}},
    "fill": {"field": "s", "type": "nominal", "scale": {"domain": ["a","b","c","d","e","f","g","h"], "range": ["white","white","white","white","#000080","#000080","#FF0000","#FF0000"]}},
    "shape": {"field": "s", "type": "nominal", "scale": {"domain": ["h","g","f","e","d","c","b","a"], "range": ["square","diamond","square","diamond","square","diamond","square","diamond"]}, "legend": null},
    "size": {"field": "s", "type": "ordinal", "scale": {"domain": ["h","g","f","e","d","c","b","a"], "range": [42,30,42,30,30,25,30,25]}, "legend": null}
   }}
 ]
}
]
}
